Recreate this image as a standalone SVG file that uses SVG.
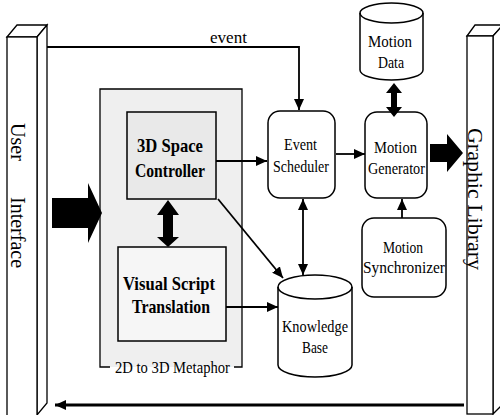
<svg xmlns="http://www.w3.org/2000/svg" width="500" height="415" viewBox="0 0 500 415">
<style>
.ln{fill:none;stroke:#000;stroke-width:1.8}
.bx{fill:#fff;stroke:#000;stroke-width:1.5}
.pl{fill:#fff;stroke:#000;stroke-width:1.3}
.t{font-family:"Liberation Serif","Times New Roman",serif;font-size:17.5px;fill:#000}
.tb{font-family:"Liberation Serif","Times New Roman",serif;font-size:19px;font-weight:bold;fill:#000}
.tv{font-family:"Liberation Serif","Times New Roman",serif;font-size:20px;fill:#000}
</style>
<defs>
<marker id="ah" markerUnits="userSpaceOnUse" markerWidth="11" markerHeight="10" refX="11" refY="5" orient="auto">
<path d="M0,0 L11,5 L0,10 z" fill="#000"/>
</marker>
<marker id="ahs" markerUnits="userSpaceOnUse" markerWidth="11" markerHeight="10" refX="0" refY="5" orient="auto">
<path d="M11,0 L0,5 L11,10 z" fill="#000"/>
</marker>
</defs>
<rect width="500" height="415" fill="#fff"/>

<g id="user-interface">
<polygon class="pl" points="7,37 17,25 47,25 37,37"/>
<polygon class="pl" points="37,37 47,25 47,403 37,415"/>
<rect class="pl" x="7" y="37" width="30" height="380"/>
<text class="tv" transform="translate(11,123) rotate(90)" textLength="38" lengthAdjust="spacingAndGlyphs">User</text>
<text class="tv" transform="translate(11,197) rotate(90)" textLength="71" lengthAdjust="spacingAndGlyphs">Interface</text>
</g>

<g id="graphic-library">
<polygon class="pl" points="467,36 475,25 503,25 493,36"/>
<polygon class="pl" points="493,36 503,25 503,404 493,414"/>
<rect class="pl" x="467" y="36" width="26" height="378"/>
<text class="tv" transform="translate(468,128) rotate(90)" textLength="142" lengthAdjust="spacingAndGlyphs">Graphic Library</text>
</g>

<g id="metaphor">
<rect x="100" y="89" width="142" height="278" fill="#efefef" stroke="none"/>
<path class="ln" style="stroke-width:1.3" d="M110,367 L100,367 L100,89 L242,89 L242,367 L234,367"/>
<text class="t" x="115" y="373" textLength="115" lengthAdjust="spacingAndGlyphs">2D to 3D Metaphor</text>
</g>

<g id="space-controller">
<rect x="127" y="112" width="89" height="87" fill="#e9e9e9" stroke="#000" stroke-width="1.5"/>
<text class="tb" x="137" y="152" textLength="66" lengthAdjust="spacingAndGlyphs">3D Space</text>
<text class="tb" x="135" y="177" textLength="70" lengthAdjust="spacingAndGlyphs">Controller</text>
</g>

<g id="visual-script">
<rect x="118" y="247" width="108" height="94" fill="#f6f6f6" stroke="#000" stroke-width="1.5"/>
<text class="tb" x="123" y="290" textLength="92" lengthAdjust="spacingAndGlyphs">Visual Script</text>
<text class="tb" x="132" y="313" textLength="78" lengthAdjust="spacingAndGlyphs">Translation</text>
</g>

<g id="event-scheduler">
<rect class="bx" x="268" y="111" width="67" height="87" rx="12"/>
<text class="t" x="284" y="150" textLength="33" lengthAdjust="spacingAndGlyphs">Event</text>
<text class="t" x="273" y="172" textLength="56" lengthAdjust="spacingAndGlyphs">Scheduler</text>
</g>

<g id="motion-generator">
<rect class="bx" x="365" y="112" width="62" height="86" rx="12"/>
<text class="t" x="374" y="153" textLength="43" lengthAdjust="spacingAndGlyphs">Motion</text>
<text class="t" x="368" y="174" textLength="57" lengthAdjust="spacingAndGlyphs">Generator</text>
</g>

<g id="motion-synchronizer">
<rect class="bx" x="362" y="218" width="84" height="79" rx="12"/>
<text class="t" x="383" y="253" textLength="40" lengthAdjust="spacingAndGlyphs">Motion</text>
<text class="t" x="363" y="273" textLength="82" lengthAdjust="spacingAndGlyphs">Synchronizer</text>
</g>

<g id="motion-data">
<path class="bx" d="M360,13 L360,70 A31.5,10 0 0 0 423,70 L423,13 A31.5,10 0 0 0 360,13 Z"/>
<path class="ln" style="stroke-width:1.5" d="M360,13 A31.5,10 0 0 0 423,13"/>
<text class="t" x="368" y="47" textLength="44" lengthAdjust="spacingAndGlyphs">Motion</text>
<text class="t" x="378" y="68" textLength="26" lengthAdjust="spacingAndGlyphs">Data</text>
</g>

<g id="knowledge-base">
<path class="bx" d="M278,287 L278,365 A37,12 0 0 0 352,365 L352,287 A37,12 0 0 0 278,287 Z"/>
<path class="ln" style="stroke-width:1.5" d="M278,287 A37,12 0 0 0 352,287"/>
<text class="t" x="282" y="332" textLength="66" lengthAdjust="spacingAndGlyphs">Knowledge</text>
<text class="t" x="302" y="353" textLength="26" lengthAdjust="spacingAndGlyphs">Base</text>
</g>

<g id="connectors">
<path class="ln" d="M47,47 L299,47 L299,110" marker-end="url(#ah)"/>
<text class="t" x="210" y="43" textLength="37" lengthAdjust="spacingAndGlyphs">event</text>
<line class="ln" x1="216" y1="161" x2="267" y2="161" marker-end="url(#ah)"/>
<line class="ln" x1="218" y1="199" x2="283" y2="278" marker-end="url(#ah)"/>
<line class="ln" x1="226" y1="307" x2="278" y2="307" marker-end="url(#ah)"/>
<line class="ln" x1="336" y1="154" x2="365" y2="154" marker-end="url(#ah)"/>
<line class="ln" x1="303" y1="199" x2="303" y2="275" marker-start="url(#ahs)" marker-end="url(#ah)"/>
<line class="ln" x1="402" y1="218" x2="402" y2="199" marker-end="url(#ah)"/>
<line x1="464" y1="405" x2="55" y2="405" stroke="#000" stroke-width="2.8" marker-end="url(#ah)"/>
<polygon points="52,198 88,198 88,183 102,213 88,243 88,228 52,228" fill="#000"/>
<polygon points="430,144 447,144 447,134 463,153 447,172 447,162 430,162" fill="#000"/>
<polygon points="168,200 179,215 173,215 173,237 179,237 168,247 157,237 163,237 163,215 157,215" fill="#000"/>
<polygon points="394,83 402,93 397,93 397,107 402,107 394,117 386,107 391,107 391,93 386,93" fill="#000"/>
</g>
</svg>
